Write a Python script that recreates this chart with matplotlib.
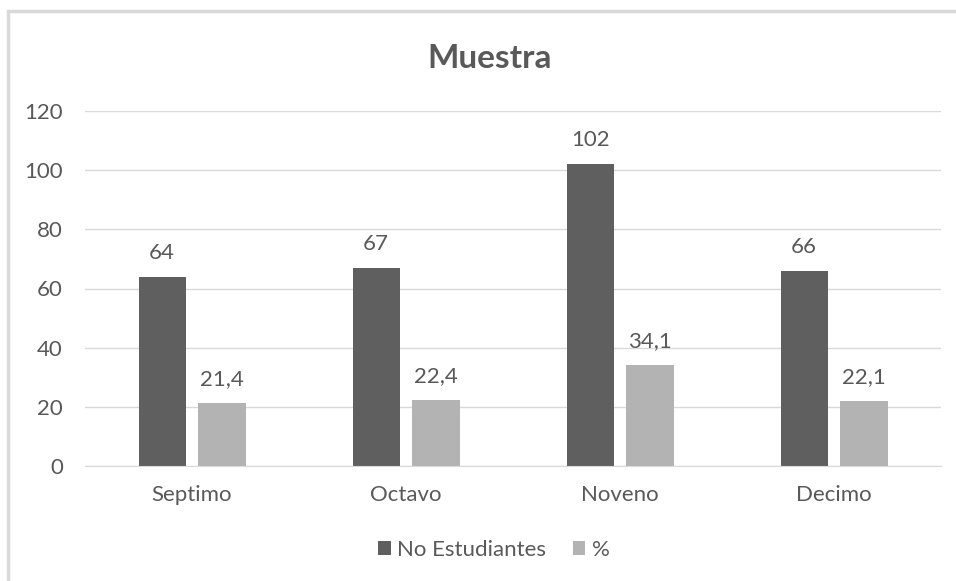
import matplotlib
matplotlib.use("Agg")
from matplotlib import pyplot as plt
from matplotlib.patches import Rectangle
import numpy as np

plt.rcParams['font.family'] = ['Lato', 'DejaVu Sans']

categories = ["Septimo", "Octavo", "Noveno", "Decimo"]
estudiantes = [64, 67, 102, 66]
porcentaje = [21.4, 22.4, 34.1, 22.1]
series_names = ["No Estudiantes", "%"]

dark = "#5f5f5f"
light = "#b3b3b3"
txt = "#595959"
grid = "#d9d9d9"

fig = plt.figure(figsize=(9.56, 5.81), dpi=100)
# outer frame
fig.patches.append(Rectangle((8 / 956, -0.01), 1.0, 1 - 11 / 581 + 0.01, transform=fig.transFigure,
                             fill=False, edgecolor=grid, linewidth=2.5))
ax = fig.add_axes([85 / 956, 1 - 466 / 581, (941 - 85) / 956, (466 - 111) / 581])

x = np.arange(len(categories))
w = 0.22
b1 = ax.bar(x - 0.14, estudiantes, w, color=dark, label=series_names[0])
b2 = ax.bar(x + 0.14, porcentaje, w, color=light, label=series_names[1])

for bars, vals in ((b1, estudiantes), (b2, porcentaje)):
    for r, v in zip(bars, vals):
        s = str(v).replace(".", ",")
        ax.annotate(s, (r.get_x() + r.get_width() / 2, v), xytext=(0, 10), textcoords="offset points",
                    ha="center", va="bottom", fontsize=16, color=txt)

ax.set_xlim(-0.5, 3.5)
ax.set_ylim(0, 120)
ax.set_yticks(range(0, 121, 20))
ax.set_xticks(x)
ax.set_xticklabels(categories)
ax.yaxis.grid(True, color=grid, linewidth=1)
ax.set_axisbelow(True)
for sp in ["top", "right", "left"]:
    ax.spines[sp].set_visible(False)
ax.spines["bottom"].set_color(grid)
ax.tick_params(length=0, labelsize=16, colors=txt)
ax.tick_params(axis="y", pad=16)
ax.tick_params(axis="x", pad=14)

fig.text(490 / 956, 1 - 58 / 581, "Muestra", ha="center", va="center", fontsize=24,
         fontweight="bold", color=txt)
fig.legend(loc="center", bbox_to_anchor=(494 / 956, 1 - 550 / 581), ncol=2, frameon=False,
           fontsize=16, labelcolor=txt, handlelength=0.55, handleheight=0.55, handletextpad=0.3,
           columnspacing=1.2)

fig.savefig("out.png", dpi=100)
